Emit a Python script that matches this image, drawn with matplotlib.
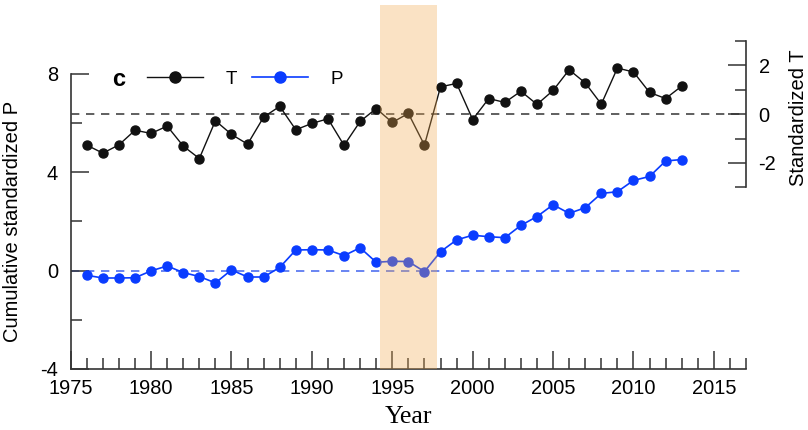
import numpy as np
import matplotlib
matplotlib.use('Agg')
import matplotlib.pyplot as plt
from matplotlib.lines import Line2D
from matplotlib.ticker import MultipleLocator

plt.rcParams['font.family'] = ['Liberation Sans', 'DejaVu Sans']
plt.rcParams['axes.unicode_minus'] = False

# yearly series 1976-2013
years = np.arange(1976, 2014)
temp_std = [-1.27, -1.60, -1.26, -0.66, -0.79, -0.49, -1.31, -1.82, -0.27, -0.83,
            -1.23, -0.12, 0.32, -0.64, -0.38, -0.19, -1.28, -0.30, 0.23, -0.34,
            0.03, -1.27, 1.12, 1.26, -0.22, 0.64, 0.48, 0.94, 0.40, 0.97,
            1.82, 1.28, 0.41, 1.89, 1.73, 0.89, 0.64, 1.15]
precip_cum = [-0.19, -0.30, -0.30, -0.29, -0.01, 0.19, -0.08, -0.24, -0.50, 0.03,
              -0.26, -0.26, 0.13, 0.84, 0.85, 0.84, 0.61, 0.93, 0.34, 0.38,
              0.37, -0.04, 0.77, 1.25, 1.44, 1.38, 1.34, 1.84, 2.20, 2.68,
              2.33, 2.56, 3.14, 3.21, 3.67, 3.83, 4.46, 4.52]
shade_span = (1994.25, 1997.8)

black = '#111111'
blue = '#0a3cff'
spine_col = '#333333'

fig = plt.figure(figsize=(8.08, 4.30), dpi=100)
ax = fig.add_axes([0.0875, 0.142, 0.8358, 0.846])
ax2 = ax.twinx()

# cumulative P on the left axis
ax.axhline(0, color='#4f6ff0', lw=1.2, ls=(0, (5, 4)), zorder=1)
ax.plot(years, precip_cum, '-o', color=blue, lw=1.2, ms=6.5, zorder=3)

# standardized T on the right axis
ax2.axhline(0, color='#444444', lw=1.2, ls=(0, (5, 4)), zorder=1)
ax2.plot(years, temp_std, '-o', color=black, lw=1.0, ms=6.5, zorder=3)
ax2.axvspan(*shade_span, color='#f2a94e', alpha=0.33, lw=0, zorder=5)

ax.set_xlim(1975, 2017)
ax.set_ylim(-4, 10.8)
ax2.set_ylim(-10.45, 4.47)

for a in (ax, ax2):
    a.spines['top'].set_visible(False)
    for s in a.spines.values():
        s.set_color(spine_col)
        s.set_linewidth(1.2)
ax.spines['right'].set_visible(False)
ax2.spines['left'].set_visible(False)
ax2.spines['bottom'].set_visible(False)
ax.spines['left'].set_bounds(-4, 8)
ax2.spines['right'].set_bounds(-3, 3)

ax.xaxis.set_major_locator(MultipleLocator(5))
ax.xaxis.set_minor_locator(MultipleLocator(1))
ax.set_yticks([-4, 0, 4, 8])
ax.set_yticks([-2, 2, 6], minor=True)
ax2.set_yticks([-2, 0, 2])
ax2.set_yticks([-3, -1, 1, 3], minor=True)

for a in (ax, ax2):
    a.tick_params(which='major', direction='in', length=13, width=1.1,
                  color=spine_col, labelsize=14.4)
    a.tick_params(which='minor', direction='in', length=8, width=1.1,
                  color=spine_col)
ax.tick_params(axis='x', pad=7)
ax.tick_params(axis='y', pad=9)
ax2.tick_params(axis='y', pad=9)

# nudge the bottom "-4" up a touch so it clears the year labels
ax.get_yticklabels()[0].set_va('center_baseline')

ax.set_xlabel('Year', family='Liberation Serif', fontsize=18.5, labelpad=6)
ax.set_ylabel('Cumulative standardized P', fontsize=14.5)
ax.yaxis.set_label_coords(-0.072, 0.405)
ax2.set_ylabel('Standardized T', fontsize=14.5, rotation=90)
ax2.yaxis.set_label_coords(1.063, 0.69)

handles = [Line2D([], [], color=black, lw=1.0, marker='o', ms=8),
           Line2D([], [], color=blue, lw=1.2, marker='o', ms=8)]
ax2.legend(handles, ['T', 'P'], ncol=2, frameon=False, loc='center left',
           bbox_to_anchor=(0.113, 0.797), fontsize=13.5, handlelength=3.0,
           handletextpad=1.2, columnspacing=0.8, borderpad=0, borderaxespad=0)
ax2.text(0.0715, 0.797, 'c', transform=ax2.transAxes, ha='center', va='center',
         fontsize=17, fontweight='bold')

fig.savefig('out.png', dpi=100)
